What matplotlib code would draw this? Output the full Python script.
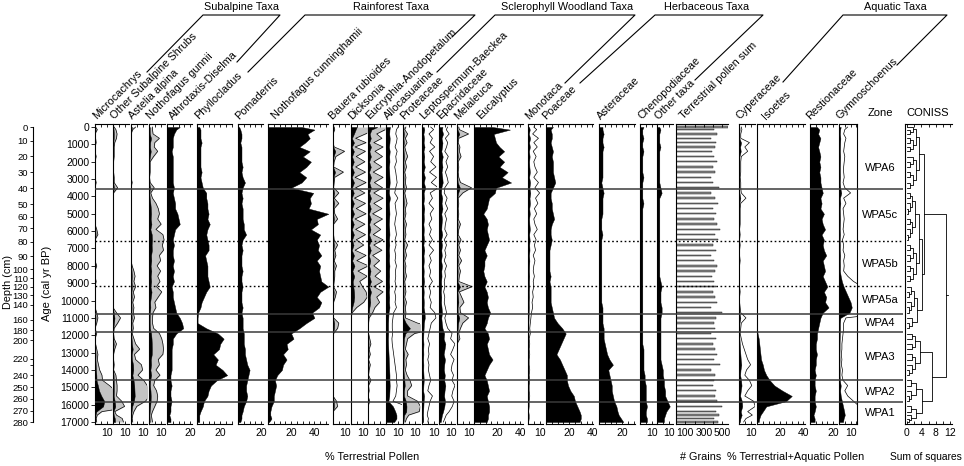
import numpy as np
import matplotlib
matplotlib.use("Agg")
import matplotlib.pyplot as plt
from matplotlib.lines import Line2D

plt.rcParams['font.family'] = ['Liberation Sans', 'DejaVu Sans']
plt.rcParams['axes.linewidth'] = 0.8

W, H = 964, 466
TOP, BOT = 124, 424          # pixel rows of the panel frames
YLIM = (17115, -173)         # ages at bottom / top of the frames
PXPCT = 1.16                 # pixels per percent
GREY = '#c4c4c4'
WHITE = 'white'

# sample ages (cal yr BP)
ages = [0, 150, 400, 650, 900, 1150, 1400, 1700, 2000, 2300,
        2600, 2900, 3200, 3500, 3800, 4100, 4400, 4700, 5000, 5300,
        5600, 5900, 6200, 6500, 6800, 7100, 7400, 7700, 8000, 8300,
        8600, 8900, 9200, 9500, 9800, 10100, 10400, 10700, 11000, 11300,
        11600, 11900, 12200, 12500, 12800, 13100, 13400, 13700, 14000, 14300,
        14600, 14900, 15200, 15500, 15800, 16100, 16400, 16600, 16800, 17000]

# depth scale (cm) and the ages they sit at
depths = ['0', '10', '20', '30', '40', '50', '60', '70', '80', '90', '100', '110', '120',
          '130', '140', '160', '180', '200', '220', '', '240', '250', '260', '270', '280']
depth_ages = [0, 790, 1695, 2620, 3526, 4451, 5164, 5838, 6609, 7437, 8189, 8728, 9210,
              9692, 10231, 11098, 11715, 12293, 13353, 13738, 14316, 14990, 15665, 16339, 17000]

# percentages
microcachrys = [0.1, 0.4, 0, 0.1, 0.2, 0, 0, 0.2, 0, 0,
                0, 0, 0.2, 0, 0, 0, 0, 0.1, 0, 0,
                0, 0.3, 0.5, 0, 0, 0, 0, 0, 0.3, 0,
                0, 0.2, 0, 0, 0, 0, 0, 0.3, 0.5, 0.3,
                0, 0.3, 0, 0.1, 0.3, 0.5, 0.4, 0.6, 0.8, 1.2,
                1.3, 2.5, 3.5, 5.5, 8.0, 7.0, 1.2, 0.4, 0.2, 0.3]
other_subalpine = [0.2, 0.5, 0.7, 0.6, 0.3, 0.2, 0.2, 0.2, 0.1, 0.1,
                   0.1, 0.2, 0.2, 0.8, 0.1, 0, 0, 0, 0, 0.1,
                   0, 0, 0.1, 0, 0, 0, 0, 0, 0, 0,
                   0, 0, 0, 0, 0, 0, 0, 0.6, 1.3, 0.8,
                   0.2, 0.1, 0.2, 0.6, 0.3, 0.1, 0.1, 0.2, 0.1, 0.5,
                   0.6, 0.7, 0.7, 0.6, 1.5, 2.0, 0.3, 0.6, 1.6, 1.8]
astelia = [0.8, 0.3, 0, 0, 0, 0, 0, 0.1, 0, 0,
           0, 0, 0.2, 0, 0, 0, 0, 0, 0, 0,
           0, 0, 0, 0, 0, 0, 0, 0, 0.2, 0.5,
           0.7, 0.5, 0.8, 0.4, 0.6, 0.3, 0.5, 0.4, 0.6, 0.3,
           0.4, 0.2, 0.5, 0.8, 1.5, 0.6, 0.8, 1.8, 2.0, 1.2,
           2.2, 2.8, 3.0, 3.2, 2.5, 1.0, 0.5, 0.3, 0.2, 0.3]
n_gunnii = [0.6, 0.6, 0.7, 1.8, 1.0, 0.9, 1.5, 0.8, 0.2, 0.2,
            0.2, 0.1, 0.2, 0.9, 0.3, 0.6, 1.2, 1.6, 1.8, 1.5,
            2.1, 1.2, 2.4, 2.6, 2.3, 2.5, 1.8, 2.0, 1.4, 2.0,
            1.5, 1.9, 1.3, 2.2, 1.6, 1.0, 1.2, 0.7, 0.6, 0.6,
            0.8, 1.8, 2.2, 2.4, 2.5, 2.4, 1.6, 1.8, 1.2, 1.9,
            1.0, 0.8, 1.3, 1.5, 1.4, 1.0, 0.6, 0.4, 0.5, 0.6]
athrotaxis = [11, 8, 6, 5, 5, 5, 4, 5, 5, 5,
              5, 5, 5, 6, 5, 6, 7, 7, 9, 10,
              11, 7, 6, 5, 6, 5, 5, 6, 5, 6,
              5, 6, 4, 5, 5, 6, 7, 8, 11, 13,
              14, 8, 5, 5, 4, 4, 4, 4, 4, 3,
              3, 4, 3, 3, 4, 3, 3, 2, 3, 3]
phyllocladus = [2, 3, 3, 3, 4, 3, 3, 3, 3, 3,
                4, 3, 4, 5, 8, 8, 9, 9, 10, 9,
                11, 9, 8, 9, 10, 10, 7, 8, 9, 9,
                9, 10, 11, 8, 6, 4, 3, 1, 0.5, 0.5,
                8, 18, 23, 20, 19, 14, 18, 16, 22, 26,
                17, 12, 10, 9, 6, 5, 3, 2, 2, 2]
pomaderris = [1, 2, 3, 3, 2, 3, 3, 3, 3, 4,
              3, 4, 6, 4, 3, 4, 3, 4, 4, 4,
              5, 5, 7, 4, 3, 4, 3, 3, 3, 4,
              3, 3, 4, 3, 3, 3, 4, 3, 4, 4,
              4, 5, 5, 5, 6, 6, 7, 8, 10, 9,
              8, 7, 7, 8, 7, 5, 4, 3, 3, 2]
n_cunninghamii = [29, 40, 34, 36, 32, 27, 36, 30, 37, 33,
                  27, 33, 29, 20, 39, 36, 37, 35, 52, 42,
                  43, 37, 45, 42, 44, 43, 46, 42, 45, 44,
                  45, 46, 52, 45, 42, 46, 44, 38, 40, 33,
                  27, 20, 22, 16, 17, 13, 16, 13, 12, 8,
                  6, 7, 6, 5, 5, 3, 2, 2, 3, 1]
bauera = [0.2, 0.3, 0, 0, 0, 0.2, 2.0, 0.5, 0.2, 0.1,
          1.8, 0.3, 0.2, 0.1, 1.0, 0.2, 1.0, 0.2, 0.3, 0.8,
          0.1, 0.1, 0.1, 0.2, 0.8, 0.3, 0.5, 0.2, 0.6, 0.3,
          0.3, 0.2, 0.1, 0.6, 0.4, 0.1, 0, 0, 0.1, 1.0,
          0.8, 0.1, 0, 0, 0, 0, 0, 0, 0, 0,
          0, 0, 0, 0, 0.6, 0.8, 0, 0, 0, 0]
dicksonia = [5, 4, 2.5, 0.8, 2.6, 0.7, 2.5, 0.9, 2.4, 0.8,
             2.5, 0.7, 2.6, 0.8, 2.4, 0.6, 2.5, 0.9, 2.6, 0.7,
             2.4, 0.8, 2.5, 0.9, 2.2, 0.7, 2.6, 1.0, 3.0, 1.2,
             2.8, 1.5, 2.0, 2.6, 2.8, 2.2, 1.0, 0.2, 0, 0,
             0, 0, 0, 0, 0, 0.1, 0, 0, 0, 0,
             0, 0, 0, 0, 0, 0, 0, 0, 0, 0]
eucryphia = [8, 3, 1.5, 2.4, 1.0, 2.6, 1.2, 2.5, 1.0, 2.4,
             0.9, 2.6, 1.1, 2.5, 1.0, 2.6, 1.0, 2.4, 0.8, 2.5,
             1.0, 2.2, 0.9, 2.6, 1.0, 2.4, 0.8, 2.0, 1.0, 2.2,
             1.2, 2.5, 1.0, 2.6, 1.5, 2.0, 1.2, 0.8, 0.2, 0.1,
             0, 0.1, 0.3, 0.5, 0.2, 0.4, 0.1, 0.4, 0.2, 0.1,
             0.5, 0.1, 0.2, 0, 0.3, 0, 0, 0, 0, 0]
allocasuarina = [3.5, 3.0, 2.8, 3.2, 3.0, 2.6, 3.2, 2.8, 3.0, 2.5,
                 2.8, 3.0, 3.2, 2.8, 2.5, 3.4, 2.6, 2.8, 3.0, 2.7,
                 2.5, 2.8, 3.0, 2.6, 2.9, 2.5, 2.8, 2.6, 3.0, 2.7,
                 2.8, 2.6, 2.9, 2.5, 2.8, 2.6, 3.0, 2.2, 2.0, 1.8,
                 1.8, 1.9, 1.7, 1.8, 2.0, 2.2, 2.4, 2.6, 2.8, 3.0,
                 3.0, 3.2, 3.0, 2.8, 2.0, 6, 8, 9, 9, 7]
proteaceae = [0.5, 0.3, 0.8, 0.4, 0.7, 0.3, 0.5, 0.8, 0.4, 0.6,
              0.3, 0.5, 0.4, 0.6, 0.3, 0.5, 0.7, 0.4, 0.5, 0.3,
              0.6, 0.4, 0.5, 0.3, 0.8, 0.4, 0.6, 0.3, 0.5, 0.4,
              0.6, 0.3, 0.4, 0.5, 0.3, 0.6, 0.4, 0.5, 0.4, 2.5,
              6.0, 2.0, 0.8, 0.6, 0.4, 0.9, 0.5, 0.6, 0.4, 0.7,
              1.2, 1.5, 0.8, 0.8, 2.5, 3.0, 2.8, 1.0, 0.6, 0.4]
leptospermum = [1.5, 2.0, 1.2, 1.8, 1.4, 2.2, 1.3, 2.0, 1.5, 2.4,
                1.3, 2.5, 1.6, 2.8, 1.4, 1.8, 1.2, 2.0, 1.4, 1.7,
                1.2, 1.6, 1.3, 1.8, 1.2, 2.0, 1.3, 1.6, 1.2, 1.5,
                1.3, 1.8, 1.2, 1.5, 1.3, 1.6, 1.4, 2.2, 2.4, 1.6,
                1.4, 1.2, 1.0, 1.3, 1.1, 1.2, 1.0, 1.2, 1.1, 1.3,
                1.5, 1.2, 1.0, 1.8, 1.4, 1.2, 1.0, 0.9, 1.1, 1.0]
epacridaceae = [3.0, 2.5, 3.5, 2.2, 3.0, 2.6, 2.0, 3.2, 2.4, 3.0,
                2.2, 2.8, 3.2, 2.0, 1.8, 2.8, 2.2, 3.0, 2.0, 2.6,
                2.2, 2.0, 2.8, 1.8, 2.6, 2.0, 2.4, 1.8, 2.6, 2.0,
                2.2, 1.8, 2.0, 1.6, 2.0, 1.8, 2.2, 2.6, 2.0, 2.4,
                3.0, 4.5, 4.0, 5.5, 4.8, 4.0, 5.2, 4.5, 4.2, 5.0,
                4.5, 5.5, 4.8, 4.4, 5.2, 4.6, 3.5, 2.5, 2.0, 1.5]
melaleuca = [0.3, 0.4, 2.0, 0.3, 0.2, 0.5, 0.4, 0.7, 0.2, 0.3,
             0.2, 0.3, 0.6, 2.5, 1.0, 0.2, 0.3, 0.2, 0.3, 0.2,
             0.6, 0.3, 0.2, 0.7, 0.3, 0.6, 0.3, 0.8, 0.3, 0.6,
             0.4, 0.3, 2.6, 0.4, 0.8, 1.2, 0.5, 0.6, 2.0, 1.0,
             0.6, 0.3, 0.5, 0, 0, 0, 0, 0, 0, 0,
             0, 0, 0, 0, 0, 0, 0, 0, 0, 0]
eucalyptus = [16, 31, 17, 18, 19, 22, 26, 21, 26, 22,
              29, 24, 32, 19, 18, 13, 12, 11, 8, 11,
              12, 11, 12, 13, 11, 9, 11, 9, 9, 8,
              9, 11, 9, 11, 12, 11, 12, 14, 12, 11,
              9, 12, 13, 11, 12, 13, 16, 13, 11, 9,
              11, 12, 13, 11, 12, 13, 13, 12, 12, 11]
monotaca = [1.0, 1.5, 0.8, 1.8, 1.0, 1.6, 0.9, 1.4, 1.0, 1.2,
            1.6, 1.0, 1.8, 1.2, 2.0, 1.3, 1.7, 1.1, 1.5, 1.0,
            1.2, 1.6, 1.0, 1.4, 1.1, 1.3, 0.9, 1.2, 1.0, 0.9,
            1.1, 0.9, 1.0, 0.8, 0.9, 0.7, 0.8, 0.6, 0.5, 0.4,
            0.3, 0.4, 0.2, 0.3, 0.2, 0.3, 0.2, 0.2, 0.3, 0.2,
            0.3, 0.2, 0.2, 0.3, 0.2, 0.2, 0.1, 0.2, 0.2, 0.1]
poaceae = [6, 4, 5, 5, 4, 5, 6, 5, 6, 6,
           6, 7, 8, 6, 4, 4, 5, 5, 6, 7,
           5, 4, 4, 5, 4, 3, 3, 3, 3, 3,
           4, 3, 4, 4, 4, 4, 5, 6, 7, 10,
           14, 17, 15, 13, 11, 9, 12, 14, 16, 18,
           18, 19, 21, 24, 25, 27, 29, 30, 30, 29]
asteraceae = [3, 3, 4, 3, 3, 4, 3, 3, 3, 3,
              3, 3, 2, 3, 4, 3, 3, 3, 3, 2,
              2, 2, 3, 2, 2, 2, 2, 2, 2, 2,
              2, 2, 2, 2, 2, 2, 3, 3, 3, 3,
              4, 4, 4, 5, 6, 7, 9, 12, 8, 9,
              10, 11, 11, 12, 13, 15, 16, 17, 19, 21]
chenopodiaceae = [3, 2, 2, 3, 2, 2, 3, 2, 2, 2,
                  2, 3, 2, 2, 2, 2, 3, 2, 2, 2,
                  2, 2, 2, 2, 2, 2, 2, 2, 2, 2,
                  2, 2, 2, 2, 2, 2, 2, 2, 2, 2,
                  2, 2, 2, 2, 3, 3, 3, 3, 3, 4,
                  4, 5, 5, 5, 5, 6, 5, 5, 6, 6]
other_taxa = [2, 3, 2, 2, 2, 3, 2, 2, 2, 2,
              2, 2, 2, 3, 4, 2, 2, 2, 2, 2,
              2, 2, 2, 2, 2, 2, 2, 2, 2, 2,
              2, 3, 4, 3, 3, 3, 4, 4, 3, 3,
              3, 3, 3, 3, 3, 3, 3, 4, 5, 5,
              6, 6, 7, 7, 9, 11, 8, 7, 6, 6]
# grains counted
pollen_sum = [560, 410, 440, 380, 430, 420, 390, 410, 440, 400,
              420, 380, 400, 460, 380, 420, 450, 400, 430, 410,
              440, 470, 420, 450, 400, 430, 380, 410, 440, 420,
              390, 410, 430, 400, 420, 440, 380, 500, 430, 410,
              420, 380, 430, 400, 420, 440, 410, 470, 380, 420,
              410, 400, 430, 420, 440, 490, 430, 460, 410, 450]
# % terrestrial + aquatic
cyperaceae = [0.4, 0.5, 0.3, 0.3, 1.8, 1.0, 1.5, 0.4, 0.3, 0.3,
              0.3, 0.2, 0.3, 0.3, 0.4, 1.2, 0.3, 0.2, 0.2, 0.2,
              0.2, 0.1, 0.2, 0.1, 0.2, 0.1, 0.1, 0.2, 0.1, 0.1,
              0.1, 0.1, 0.1, 0.2, 0.1, 0.1, 0.2, 0.3, 1.2, 0.4,
              0.3, 0.2, 0.4, 0.6, 0.9, 1.2, 1.5, 2.0, 1.3, 1.0,
              1.8, 2.2, 1.5, 1.0, 2.5, 2.8, 1.5, 2.3, 1.2, 0.8]
isoetes = [0, 0, 0, 0, 0, 0, 0, 0, 0, 0,
           0, 0, 0, 0, 0, 0, 0, 0, 0, 0,
           0, 0, 0, 0, 0, 0, 0, 0, 0, 0,
           0, 0, 0, 0, 0, 0, 0, 0, 0, 0,
           0, 0.5, 1.5, 2, 2.5, 3, 3.5, 5, 6, 8,
           11, 15, 22, 30, 25, 8, 5, 3, 2, 1.5]
restionaceae = [6, 8, 7, 9, 8, 7, 8, 9, 8, 9,
                8, 9, 9, 10, 11, 9, 10, 9, 12, 10,
                11, 13, 10, 12, 11, 12, 14, 11, 12, 13,
                11, 13, 15, 12, 14, 13, 16, 11, 9, 8,
                7, 6, 6, 5, 5, 6, 5, 5, 4, 5,
                4, 4, 5, 4, 4, 5, 4, 3, 4, 4]
gymnoschoenus = [1.5, 1.0, 0.8, 1.2, 1.0, 0.9, 0.8, 1.0, 0.9, 0.8,
                 0.8, 0.9, 0.7, 1.0, 2.0, 0.8, 1.2, 0.7, 0.8, 0.9,
                 0.8, 0.7, 0.9, 0.6, 0.8, 0.7, 1.0, 0.8, 0.9, 0.8,
                 1.5, 2.5, 4, 6, 8, 10, 11, 9, 1.2, 0.8,
                 0.8, 0.7, 0.6, 0.5, 0.5, 0.4, 0.5, 0.4, 0.6, 0.5,
                 0.7, 1.5, 1.0, 1.5, 2.5, 3.5, 4.5, 5.0, 4.0, 3.5]

# zones
zone_solid = [3600, 10780, 11800, 14560, 15830]
zone_dotted = [6550, 9160]
zone_names = ['WPA6', 'WPA5c', 'WPA5b', 'WPA5a', 'WPA4', 'WPA3', 'WPA2', 'WPA1']
zone_mid = [2360, 5070, 7900, 9970, 11300, 13250, 15270, 16480]
zone_first = [0, 14, 24, 32, 38, 41, 50, 55, 60]
# CONISS join heights inside each zone (coarse to fine)
coniss_levels = [[3.4, 2.5, 1.6, 0.9, 0.4],
                 [2.3, 1.5, 0.9, 0.4],
                 [2.4, 1.6, 0.8, 0.4],
                 [1.9, 1.1, 0.5],
                 [1.3, 0.6],
                 [3.6, 2.3, 1.3, 0.6],
                 [2.4, 1.2, 0.6],
                 [2.6, 1.2, 0.5]]

fig = plt.figure(figsize=(W / 100, H / 100), dpi=100)
a = np.array(ages, float)


def add_ax(x0, x1):
    ax = fig.add_axes([x0 / W, 1 - BOT / H, (x1 - x0) / W, (BOT - TOP) / H])
    ax.set_ylim(*YLIM)
    ax.patch.set_visible(False)
    ax.spines['right'].set_visible(False)
    return ax


def ftext(x, y, s, **kw):
    fig.text(x / W, 1 - y / H, s, **kw)


def xstyle(ax, xmax, step, labs):
    ticks = np.arange(0, xmax + 0.01, step)
    ax.set_xticks(ticks)
    ax.set_xticklabels([('%d' % t if int(round(t)) in labs else '') for t in ticks])
    ax.tick_params(axis='x', top=True, bottom=True, direction='in', length=2.5,
                   width=0.6, labelsize=7.5, pad=3)


def taxon_label(x, s):
    ftext(x, 121, s, rotation=45, rotation_mode='anchor', ha='left', va='bottom', fontsize=7.8)


panels = [
    # name, values, x0, x1, labelled ticks, exaggeration (colour, factor), label offset
    ("Microcachrys", microcachrys, 95, 112, [10], (GREY, 5), 3),
    ("Other Subalpine Shrubs", other_subalpine, 113, 129, [10], (GREY, 5), 3),
    ("Astelia alpina", astelia, 131, 147, [10], (GREY, 5), 3),
    ("Nothofagus gunnii", n_gunnii, 149, 165, [10], (GREY, 5), 3),
    ("Athrotaxis-Diselma", athrotaxis, 167, 192, [20], None, 7),
    ("Phyllocladus", phyllocladus, 197, 232, [20], None, 3),
    ("Pomaderris", pomaderris, 238, 263, [20], None, 3),
    ("Nothofagus cunninghamii", n_cunninghamii, 268, 328, [20, 40], None, 9),
    ("Bauera rubioides", bauera, 333, 349, [10], (GREY, 5), 1),
    ("Dicksonia", dicksonia, 351, 367, [10], (GREY, 5), 3),
    ("Eucryphia-Anodopetalum", eucryphia, 368, 385, [10], (GREY, 5), 3),
    ("Allocasuarina", allocasuarina, 386, 402, [10], (WHITE, 3), 3),
    ("Proteaceae", proteaceae, 403, 420, [10], (GREY, 5), 3),
    ("Leptospermum-Baeckea", leptospermum, 422, 437, [10], (WHITE, 5), 3),
    ("Epacridaceae", epacridaceae, 439, 455, [10], (WHITE, 2.5), 3),
    ("Melaleuca", melaleuca, 457, 473, [10], (GREY, 5), 3),
    ("Eucalyptus", eucalyptus, 474, 523, [20, 40], None, 8),
    ("Monotaca", monotaca, 528, 543, [10], (WHITE, 5), 3),
    ("Poaceae", poaceae, 546, 593, [20, 40], None, 2),
    ("Asteraceae", asteraceae, 599, 635, [20], None, 3),
    ("Chenopodiaceae", chenopodiaceae, 640, 656, [10], None, 3),
    ("Other taxa", other_taxa, 657, 673, [10], None, 3),
    ("Cyperaceae", cyperaceae, 739, 755, [10], (WHITE, 5), 3),
    ("Isoetes", isoetes, 757, 805, [20, 40], None, 10),
    ("Restionaceae", restionaceae, 810, 837, [20], None, 2),
    ("Gymnoschoenus", gymnoschoenus, 839, 857, [10], (WHITE, 5), 3),
]

for i, (name, vals, x0, x1, labs, exag, off) in enumerate(panels):
    ax = add_ax(x0, x1)
    v = np.array(vals, float)
    xmax = (x1 - x0) / PXPCT
    if exag:
        col, fac = exag
        ax.fill_betweenx(a, 0, v * fac, color=col, lw=0, zorder=1)
        ax.plot(v * fac, a, color='k', lw=0.5, zorder=2)
    ax.fill_betweenx(a, 0, v, facecolor='k', edgecolor='k', lw=0.3, zorder=3)
    ax.set_xlim(0, xmax)
    xstyle(ax, xmax, 5, labs)
    if i == 0:
        ax.set_yticks(range(0, 17001, 1000))
        ax.tick_params(axis='y', direction='out', length=3, width=0.6, labelsize=7.5, pad=1)
    else:
        ax.set_yticks([])
    taxon_label(x0 + off, name)

# terrestrial pollen sum
ax = add_ax(676, 728)
ax.barh(a, pollen_sum, height=80, color='#8a8a8a', edgecolor='#222222', lw=0.35)
ax.set_xlim(0, 560)
xstyle(ax, 500, 100, [100, 300, 500])
ax.set_yticks([])
taxon_label(685, "Terrestrial pollen sum")

# zone column
zax = add_ax(857, 903)
for s in ['top', 'bottom']:
    zax.spines[s].set_visible(False)
zax.set_xticks([])
zax.set_yticks([])
for nm, mid in zip(zone_names, zone_mid):
    zax.text(0.5, mid, nm, transform=zax.get_yaxis_transform(), ha='center', va='center', fontsize=8)
ftext(880, 113, "Zone", ha='center', va='center', fontsize=8)

# CONISS
cax = add_ax(905, 952)
cax.set_xlim(-0.55, 12.5)
xstyle(cax, 12, 2, [0, 4, 8, 12])
cax.set_yticks([])
ftext(928, 113, "CONISS", ha='center', va='center', fontsize=8)


def join(c1, c2, h):
    (y1, h1), (y2, h2) = c1, c2
    cax.plot([h1, h, h, h2], [y1, y1, y2, y2], color='k', lw=0.6)
    return ((y1 + y2) / 2, h)


def grow(lo, hi, levels, k=0):
    if hi - lo == 1:
        return (ages[lo], 0.0)
    mid = (lo + hi) // 2
    hk = levels[min(k, len(levels) - 1)]
    return join(grow(lo, mid, levels, k + 1), grow(mid, hi, levels, k + 1), hk)


nodes = [grow(zone_first[j], zone_first[j + 1], coniss_levels[j]) for j in range(8)]
n6, n5c, n5b, n5a, n4, n3, n2, n1 = nodes
n5 = join(join(n5c, n5b, 3.3), join(n5a, n4, 2.7), 4.1)
upper = join(n6, n5, 4.7)
lower = join(n3, join(n2, n1, 4.2), 6.9)
root = join(upper, lower, 10.8)
cax.plot([root[1], 11.4], [root[0], root[0]], color='k', lw=0.6)

# depth axis
dax = fig.add_axes([33 / W, 1 - BOT / H, 0.5 / W, (BOT - TOP) / H])
dax.set_ylim(*YLIM)
dax.patch.set_visible(False)
for s in ['right', 'top', 'bottom']:
    dax.spines[s].set_visible(False)
dax.spines['left'].set_bounds(0, 17000)
dax.set_xticks([])
dax.set_yticks(depth_ages)
dax.set_yticklabels(depths)
dax.tick_params(axis='y', direction='out', length=2.5, width=0.6, labelsize=6.8, pad=1)

ftext(8, 282, "Depth (cm)", rotation=90, ha='center', va='center', fontsize=7.8)
ftext(47, 283, "Age (cal yr BP)", rotation=90, ha='center', va='center', fontsize=8)

# zone boundaries across the diagram
oax = add_ax(95, 903)
oax.axis('off')
for z in zone_solid:
    oax.axhline(z, color='#3a3a3a', lw=1.1, zorder=10)
for z in zone_dotted:
    oax.axhline(z, color='k', lw=1.0, ls=(0, (1.2, 1.8)), zorder=10)

# group headers
groups = [
    ("Subalpine Taxa", 242, [(147, 72), (203, 15), (280, 15), (237, 62)]),
    ("Rainforest Taxa", 391, [(248, 72), (305, 15), (475, 15), (452, 37)]),
    ("Sclerophyll Woodland Taxa", 567, [(437, 72), (495, 15), (635, 15), (565, 83)]),
    ("Herbaceous Taxa", 707, [(580, 83), (655, 15), (763, 15), (695, 80)]),
    ("Aquatic Taxa", 895, [(783, 82), (843, 15), (947, 15), (897, 65)]),
]
for title, xc, pts in groups:
    ftext(xc, 7, title, ha='center', va='center', fontsize=7.8)
    xs = [p[0] / W for p in pts]
    ys = [1 - p[1] / H for p in pts]
    fig.add_artist(Line2D(xs, ys, transform=fig.transFigure, color='k', lw=0.8))

# bottom titles
ftext(372, 457, "% Terrestrial Pollen", ha='center', va='center', fontsize=7.8)
ftext(701, 457, "# Grains", ha='center', va='center', fontsize=7.8)
ftext(796, 457, "% Terrestrial+Aquatic Pollen", ha='center', va='center', fontsize=7.8)
ftext(926, 457, "Sum of squares", ha='center', va='center', fontsize=7.4)

fig.savefig("out.png", dpi=100)
